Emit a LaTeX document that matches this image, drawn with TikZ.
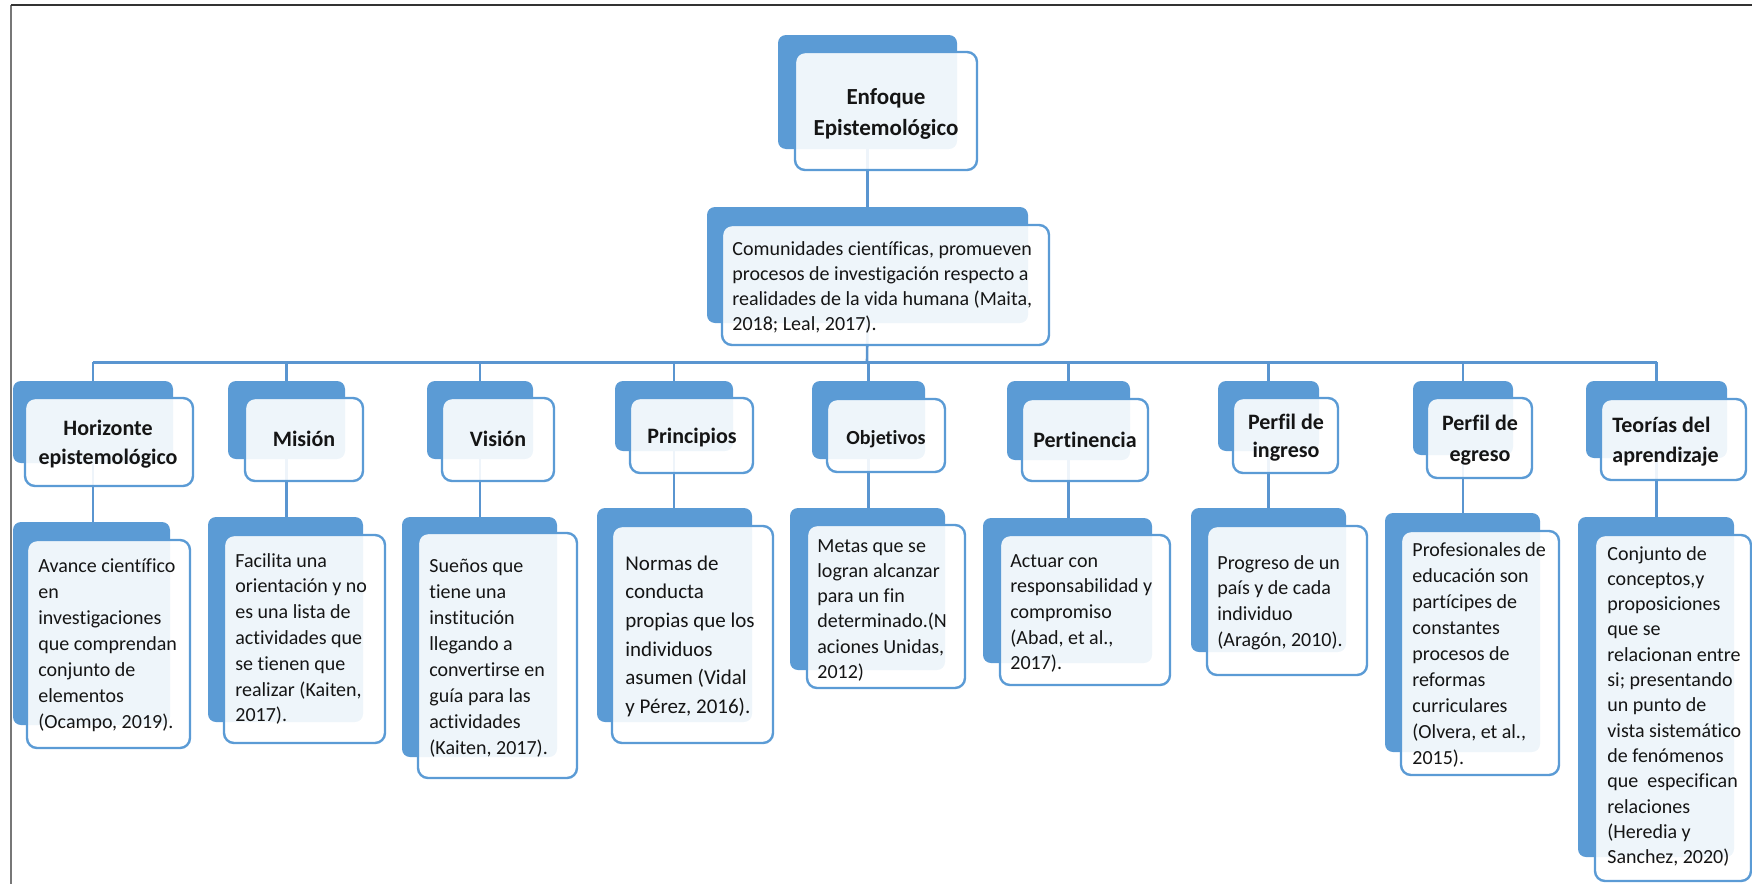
\documentclass[tikz,border=0pt]{standalone}
\usepackage{fontspec}
\setmainfont{Carlito}[Ligatures=NoCommon]
\usetikzlibrary{fit}
\definecolor{accent}{HTML}{5B9BD5}
\definecolor{rule}{HTML}{5A95D0}
\definecolor{frametop}{HTML}{333333}
\definecolor{frameleft}{HTML}{777777}
\definecolor{ink}{HTML}{151515}
% text blocks: first line sits on the node's base line
\newcommand\bodytext[3]{{\fontsize{#1}{#2}\selectfont\begin{tabular}[t]{@{}l@{}}#3\end{tabular}}}
\newcommand\headtext[3]{{\fontsize{#1}{#2}\selectfont\bfseries\begin{tabular}[t]{@{}c@{}}#3\end{tabular}}}
\newcommand\headleft[3]{{\fontsize{#1}{#2}\selectfont\bfseries\begin{tabular}[t]{@{}l@{}}#3\end{tabular}}}
\tikzset{
  backbox/.style={fill=accent, draw=none, rounded corners=4pt, inner sep=0pt},
  frontbox/.style={fill=white, fill opacity=0.9, draw=accent, draw opacity=1,
    line width=1.2pt, rounded corners=5pt, inner sep=0pt},
  link/.style={draw=rule, line width=1.3pt},
  busline/.style={draw=rule, line width=1.5pt},
  lbl/.style={inner sep=0pt, anchor=base, text=ink},
  txt/.style={inner sep=0pt, anchor=base west, text=ink},
}
\begin{document}
\begin{tikzpicture}[x=0.5pt, y=-0.5pt]
\useasboundingbox (0,0) rectangle (1752,884);

% page frame
\draw[frameleft, line width=1pt] (11,884) -- (11,5);
\draw[frametop, line width=0.9pt] (11,5) -- (1752,5);

% ---------- back plates ----------
\node[backbox, fit={(778,35) (957,149)}] (b-title) {};
\node[backbox, fit={(707,207) (1028,323)}] (b-com) {};

\node[backbox, fit={(13,381) (173,463)}]   (b-h)  {};
\node[backbox, fit={(228,381) (345,459)}]  (b-m)  {};
\node[backbox, fit={(427,381) (533,459)}]  (b-v)  {};
\node[backbox, fit={(615,381) (733,451)}]  (b-p)  {};
\node[backbox, fit={(812,381) (925,459)}]  (b-o)  {};
\node[backbox, fit={(1007,381) (1130,460)}] (b-pe) {};
\node[backbox, fit={(1218,381) (1319,451)}] (b-pi) {};
\node[backbox, fit={(1413,381) (1513,455)}] (b-pg) {};
\node[backbox, fit={(1586,381) (1727,458)}] (b-t)  {};

\node[backbox, fit={(13,522) (170,725)}]    (d-h)  {};
\node[backbox, fit={(208,517) (363,722)}]   (d-m)  {};
\node[backbox, fit={(402,517) (557,757)}]   (d-v)  {};
\node[backbox, fit={(597,508) (752,722)}]   (d-p)  {};
\node[backbox, fit={(790,508) (945,670)}]   (d-o)  {};
\node[backbox, fit={(983,518) (1152,663)}]  (d-pe) {};
\node[backbox, fit={(1191,508) (1346,652)}] (d-pi) {};
\node[backbox, fit={(1385,513) (1540,752)}] (d-pg) {};
\node[backbox, fit={(1578,517) (1734,857)}] (d-t)  {};

% ---------- connectors ----------
\coordinate (bus) at (867,362);
\draw[link] (b-title.south) -- (b-com.north);
\draw[link] (b-com.south) -- (bus);
\draw[busline] (b-h.north |- bus) -- (b-t.north |- bus);
\foreach \n in {h,m,v,p,o,pe,pi,pg,t}{
  \draw[link] (b-\n.north |- bus) -- (b-\n.north);
  \draw[link] (b-\n.south) -- (b-\n.south |- d-\n.north);
}

% ---------- front cards ----------
\node[frontbox, fit={(795,52) (977,170)}]  (f-title) {};
\node[frontbox, fit={(722,225) (1049,345)}] (f-com) {};

\node[frontbox, fit={(25,398) (193,486)}]    (f-h)  {};
\node[frontbox, fit={(245,398) (363,481)}]   (f-m)  {};
\node[frontbox, fit={(442,398) (554,481)}]   (f-v)  {};
\node[frontbox, fit={(630,398) (753,473)}]   (f-p)  {};
\node[frontbox, fit={(827,399) (945,472)}]   (f-o)  {};
\node[frontbox, fit={(1022,399) (1148,481)}] (f-pe) {};
\node[frontbox, fit={(1233,398) (1338,473)}] (f-pi) {};
\node[frontbox, fit={(1427,398) (1532,478)}] (f-pg) {};
\node[frontbox, fit={(1601,399) (1746,480)}] (f-t)  {};

\node[frontbox, fit={(27,540) (190,748)}]    (e-h)  {};
\node[frontbox, fit={(224,535) (385,743)}]   (e-m)  {};
\node[frontbox, fit={(418,533) (577,778)}]   (e-v)  {};
\node[frontbox, fit={(612,526) (773,743)}]   (e-p)  {};
\node[frontbox, fit={(807,525) (965,688)}]   (e-o)  {};
\node[frontbox, fit={(1000,535) (1170,685)}] (e-pe) {};
\node[frontbox, fit={(1207,526) (1367,675)}] (e-pi) {};
\node[frontbox, fit={(1401,531) (1559,775)}] (e-pg) {};
\node[frontbox, fit={(1595,535) (1751,881)}] (e-t)  {};

% ---------- texts ----------
\node[lbl] (x-title) at (886,104.5) {\headtext{11.5pt}{15.5pt}{Enfoque\\Epistemológico}};
\node[txt] (x-com) at (732,255) {\bodytext{10pt}{12.5pt}{Comunidades científicas, promueven\\procesos de investigación respecto a\\realidades de la vida humana (Maita,\\2018; Leal, 2017).}};

\node[lbl] (x-h)  at (108,435)  {\headtext{11pt}{14.5pt}{Horizonte\\epistemológico}};
\node[lbl] (x-m)  at (304,446)  {\headtext{11pt}{14pt}{Misión}};
\node[lbl] (x-v)  at (498,446)  {\headtext{11pt}{14pt}{Visión}};
\node[lbl] (x-p)  at (692,443)  {\headtext{11pt}{14pt}{Principios}};
\node[lbl] (x-o)  at (886,444)  {\headtext{10pt}{13pt}{Objetivos}};
\node[lbl] (x-pe) at (1085,447) {\headtext{11pt}{14pt}{Pertinencia}};
\node[lbl] (x-pi) at (1286,429) {\headtext{11pt}{14pt}{Perfil de\\ingreso}};
\node[lbl] (x-pg) at (1480,430) {\headtext{11pt}{15.5pt}{Perfil de\\egreso}};
\node[txt] (x-t)  at (1612,432) {\headleft{11pt}{15pt}{Teorías del\\aprendizaje}};

\node[txt] (y-h)  at (38,572)   {\bodytext{10pt}{13pt}{Avance científico\\en\\investigaciones\\que comprendan\\conjunto de\\elementos\\(Ocampo, 2019).}};
\node[txt] (y-m)  at (235,567)  {\bodytext{10pt}{12.9pt}{Facilita una\\orientación y no\\es una lista de\\actividades que\\se tienen que\\realizar (Kaiten,\\2017).}};
\node[txt] (y-v)  at (429,572)  {\bodytext{10pt}{13pt}{Sueños que\\tiene una\\institución\\llegando a\\convertirse en\\guía para las\\actividades\\(Kaiten, 2017).}};
\node[txt] (y-p)  at (625,570)  {\bodytext{10.5pt}{14.35pt}{Normas de\\conducta\\propias que los\\individuos\\asumen (Vidal\\y Pérez, 2016).}};
\node[txt] (y-o)  at (817,552)  {\bodytext{10pt}{12.65pt}{Metas que se\\logran alcanzar\\para un fin\\determinado.(N\\aciones Unidas,\\2012)}};
\node[txt] (y-pe) at (1010,567) {\bodytext{10pt}{12.85pt}{Actuar con\\responsabilidad y\\compromiso\\(Abad, et al.,\\2017).}};
\node[txt] (y-pi) at (1217,569) {\bodytext{10pt}{12.85pt}{Progreso de un\\país y de cada\\individuo\\(Aragón, 2010).}};
\node[txt] (y-pg) at (1412,556) {\bodytext{10pt}{13pt}{Profesionales de\\educación son\\partícipes de\\constantes\\procesos de\\reformas\\curriculares\\(Olvera, et al.,\\2015).}};
\node[txt] (y-t)  at (1607,560) {\bodytext{10pt}{12.65pt}{Conjunto de\\conceptos,y\\proposiciones\\que se\\relacionan entre\\si; presentando\\un punto de\\vista sistemático\\de fenómenos\\que\ \ especifican\\relaciones\\(Heredia y\\Sanchez, 2020)}};
\end{tikzpicture}
\end{document}
